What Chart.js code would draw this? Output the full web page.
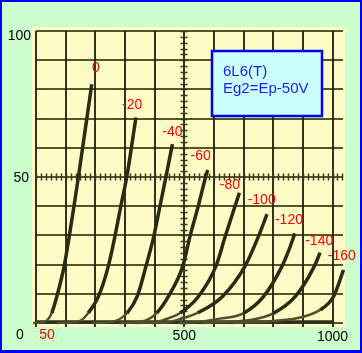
<!DOCTYPE html>
<html>
<head>
<meta charset="utf-8">
<script src="https://cdn.jsdelivr.net/npm/chart.js@4/dist/chart.umd.min.js"></script>
<style>
  html, body { margin: 0; padding: 0; background: #ccffcc; }
  canvas { display: block; }
</style>
</head>
<body>
<canvas id="canvGraph" width="362" height="353"></canvas>
<script>
// grid bias of each curve (Eg1, V)
var gridBias = ['0', '-20', '-40', '-60', '-80', '-100', '-120', '-140', '-160'];

// plate voltage Ep (V) of each curve
var plateV = [
    [-10, 25, 40, 53, 70, 95, 112, 128, 143, 188],
    [70, 130, 154, 176, 210, 244, 266, 286, 306, 337],
    [190, 250, 280, 307, 341, 371, 397, 418, 438, 460],
    [280, 340, 373, 407, 446, 495, 519, 547, 572, 579],
    [340, 400, 429, 486, 547, 607, 638, 671, 686],
    [390, 450, 474, 545, 628, 705, 750, 779],
    [480, 540, 620, 699, 767, 829, 851, 873],
    [560, 620, 722, 800, 874, 938, 958],
    [660, 720, 800, 879, 958, 1003, 1037]
];

// plate current Ip (mA) of each curve
var plateI = [
    [0, 0.3, 1.2, 3.4, 9, 19.5, 29.6, 40, 50, 81.8],
    [0, 0.3, 1, 3.4, 9, 19.5, 29.6, 40, 50, 70.4],
    [0, 0.3, 1.2, 3.4, 9, 19.5, 29.6, 40, 50, 61.3],
    [0, 0.3, 1, 3.4, 9, 19.5, 29.6, 40, 50, 52.4],
    [0, 0.3, 1, 3.4, 9, 19.5, 29.6, 40, 44.6],
    [0, 0.3, 1, 3.5, 9, 19.5, 29.6, 37.3],
    [0, 0.3, 1.5, 3.3, 9, 19.3, 24.5, 30.7],
    [0, 0.3, 1, 3.3, 9, 19.3, 24.1],
    [0, 0.3, 0.7, 1.6, 4.5, 9, 18.2]
];

// where each bias label sits (Ep, Ip)
var labelV = [202, 324, 460, 555, 654, 761, 853, 955, 1031];
var labelI = [87.3, 74.7, 65.3, 57, 47.3, 42.1, 35.3, 28.1, 22.8];

var gridX = [0, 100, 200, 300, 400, 500, 600, 700, 800, 900, 1000];
var gridY = [0, 10, 20, 30, 40, 50, 60, 70, 80, 90, 100];
var tubeTitle = ['6L6(T)', 'Eg2=Ep-50V'];

var _chart;

function buildDatasets() {
    var sets = [];
    for (var i = 0; i < plateV.length; i++) {
        var pts = [];
        for (var j = 0; j < plateV[i].length; j++) {
            pts.push({x: plateV[i][j], y: plateI[i][j]});
        }
        sets.push({
            label: gridBias[i],
            data: pts,
            borderColor: '#2b2b14',
            borderWidth: 3.5,
            pointRadius: 0,
            fill: false,
            cubicInterpolationMode: 'monotone',
            clip: false,
            segment: {
                // the foot of each curve is fainter on the scan
                borderColor: function (c) { return c.p1.parsed.y < 5 ? '#4e4e30' : undefined; },
                borderWidth: function (c) { return c.p1.parsed.y < 5 ? 2.5 : undefined; }
            }
        });
    }
    return sets;
}

var paperPlugin = {
    id: 'paper',
    beforeDraw: function (chart) {
        var ctx = chart.ctx;
        var w = chart.width, h = chart.height;
        var a = chart.chartArea;
        var xs = chart.scales.x, ys = chart.scales.y;

        ctx.save();
        ctx.fillStyle = '#ccffcc';
        ctx.fillRect(0, 0, w, h);

        // blue frame
        ctx.fillStyle = '#0000ff';
        ctx.fillRect(0, 0, w, 2);
        ctx.fillRect(0, 0, 2, h);
        ctx.fillRect(w - 2, 0, 2, h);
        ctx.fillRect(0, h - 3, w, 3);

        // paper
        ctx.fillStyle = '#fdfcc6';
        ctx.fillRect(a.left, a.top, a.right - a.left, a.bottom - a.top);

        var x0 = xs.getPixelForValue(gridX[0]);
        var y0 = ys.getPixelForValue(gridY[0]);
        var y1 = ys.getPixelForValue(gridY[gridY.length - 1]);

        // horizontal lines
        ctx.strokeStyle = '#55552c';
        ctx.lineWidth = 1.8;
        gridY.forEach(function (v) {
            var py = Math.round(ys.getPixelForValue(v));
            ctx.beginPath();
            ctx.moveTo(x0, py);
            ctx.lineTo(a.right - 2, py);
            ctx.stroke();
        });

        // vertical lines
        ctx.strokeStyle = '#1e1e0e';
        ctx.lineWidth = 1.8;
        gridX.forEach(function (v) {
            var px = Math.round(xs.getPixelForValue(v));
            ctx.beginPath();
            ctx.moveTo(px, y1);
            ctx.lineTo(px, a.bottom);
            ctx.stroke();
        });

        // dark band along the zero line
        ctx.strokeStyle = '#2e2e18';
        ctx.lineWidth = 3.5;
        ctx.beginPath();
        ctx.moveTo(x0, Math.round(y0) - 1);
        ctx.lineTo(xs.getPixelForValue(1000), Math.round(y0) - 1);
        ctx.stroke();

        // small ticks on the centre cross
        ctx.strokeStyle = '#3a3a1c';
        ctx.lineWidth = 1.5;
        var ym = Math.round(ys.getPixelForValue(50));
        for (var v = 0; v <= 1040; v += 100 / 6) {
            var tx = Math.round(xs.getPixelForValue(v)) + 0.5;
            ctx.beginPath();
            ctx.moveTo(tx, ym - 3.5);
            ctx.lineTo(tx, ym + 3.5);
            ctx.stroke();
        }
        var xm = Math.round(xs.getPixelForValue(500));
        for (var u = 0; u <= 100; u += 2) {
            var ty = Math.round(ys.getPixelForValue(u)) + 0.5;
            ctx.beginPath();
            ctx.moveTo(xm - 3.5, ty);
            ctx.lineTo(xm + 3.5, ty);
            ctx.stroke();
        }

        // axis numbers
        ctx.font = '14px "Liberation Sans", Arial, sans-serif';
        ctx.textBaseline = 'middle';
        ctx.fillStyle = '#000000';
        ctx.textAlign = 'right';
        ctx.fillText('100', x0 - 5, ys.getPixelForValue(100) + 5);
        ctx.fillText('50', x0 - 7, ys.getPixelForValue(50) + 1);
        ctx.textAlign = 'center';
        ctx.fillText('0', x0 - 16, y0 + 12);
        ctx.fillText('500', xs.getPixelForValue(500), y0 + 13);
        ctx.fillText('1000', xs.getPixelForValue(1000), y0 + 14);
        ctx.fillStyle = '#ff0000';
        ctx.fillText('50', x0 + 11, y0 + 12);
        ctx.restore();
    },
    afterDatasetsDraw: function (chart) {
        var ctx = chart.ctx;
        var xs = chart.scales.x, ys = chart.scales.y;

        ctx.save();
        ctx.font = '14px "Liberation Sans", Arial, sans-serif';
        ctx.fillStyle = '#ff0000';
        ctx.textAlign = 'center';
        ctx.textBaseline = 'middle';
        for (var i = 0; i < gridBias.length; i++) {
            ctx.fillText(gridBias[i], xs.getPixelForValue(labelV[i]), ys.getPixelForValue(labelI[i]));
        }

        // title box
        ctx.fillStyle = '#ccffff';
        ctx.fillRect(212, 51, 110, 65);
        ctx.strokeStyle = '#0000ee';
        ctx.lineWidth = 2.5;
        ctx.strokeRect(212, 51, 110, 65);
        ctx.fillStyle = '#1a1aff';
        ctx.textAlign = 'left';
        ctx.font = '15px "Liberation Sans", Arial, sans-serif';
        ctx.fillText(tubeTitle[0], 223, 72);
        ctx.fillText(tubeTitle[1], 223, 89);
        ctx.restore();
    }
};

function buildChart() {
    var ctx = document.getElementById('canvGraph').getContext('2d');

    _chart = new Chart(ctx, {
        type: 'line',
        data: {datasets: buildDatasets()},
        options: {
            responsive: false,
            animation: false,
            layout: {padding: {left: 32, top: 27, right: 17, bottom: 26}},
            plugins: {legend: {display: false}, tooltip: {enabled: false}},
            scales: {
                x: {type: 'linear', min: -13.5, max: 1042, display: false},
                y: {type: 'linear', min: -1.37, max: 101.4, display: false}
            }
        },
        plugins: [paperPlugin]
    });
}

buildChart();
</script>
</body>
</html>
